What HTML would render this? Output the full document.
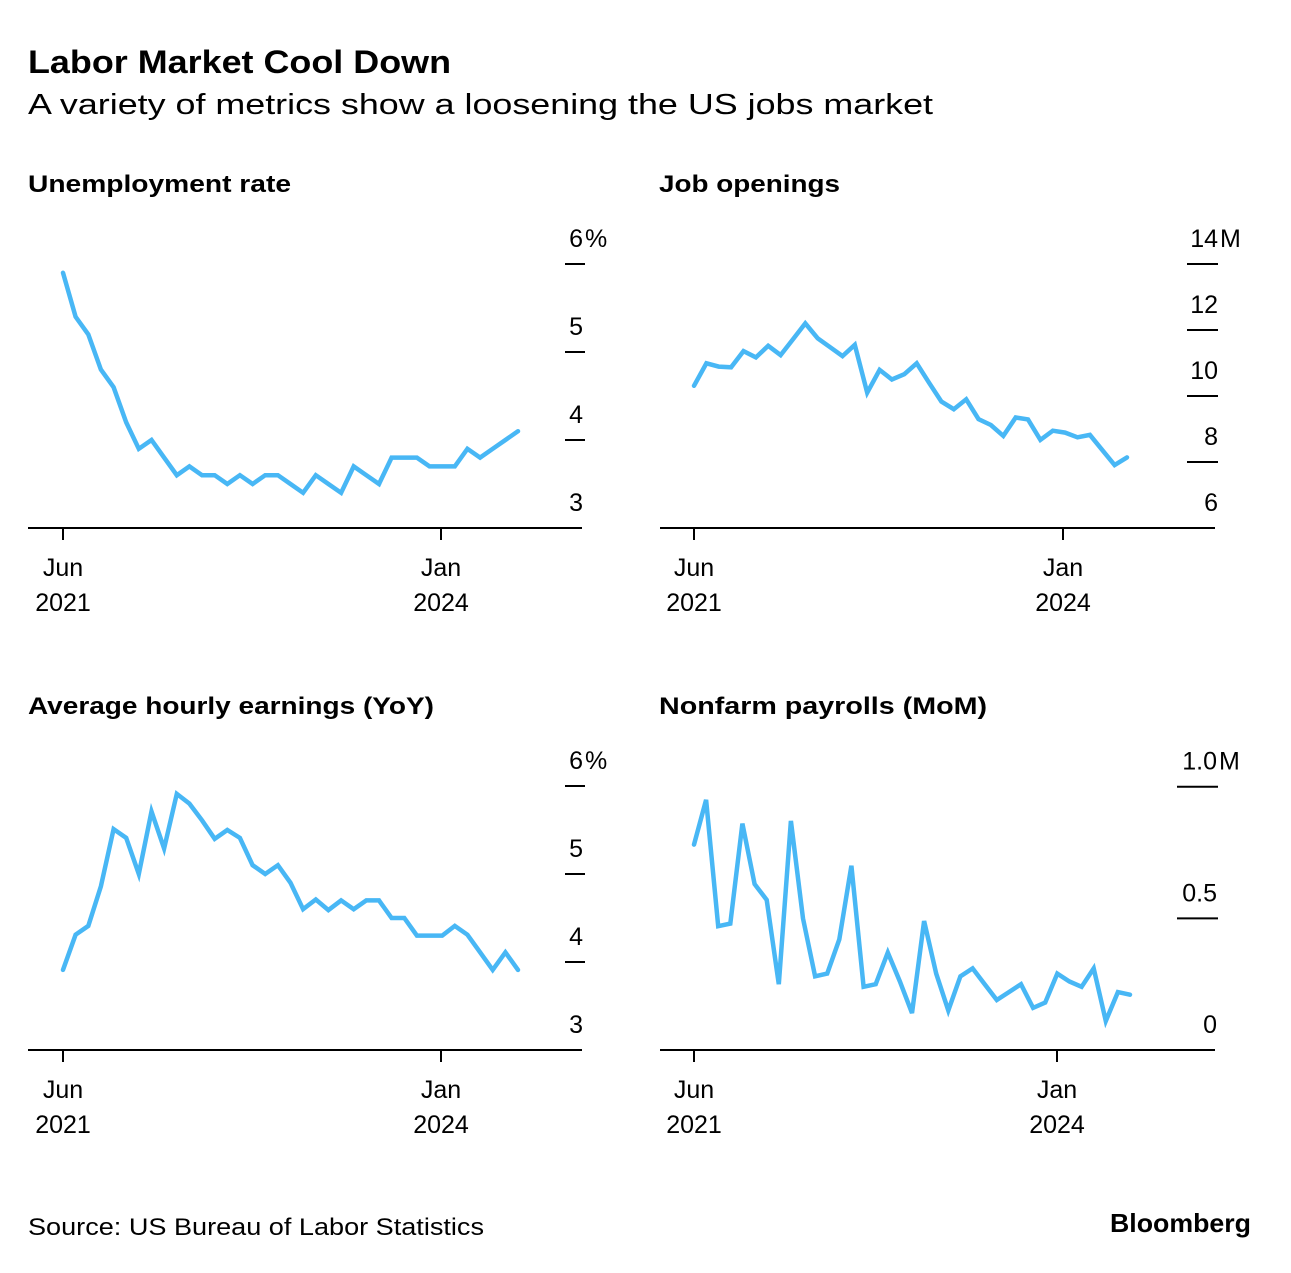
<!DOCTYPE html>
<html><head><meta charset="utf-8"><style>
body{margin:0;background:#fff;width:1291px;height:1268px;overflow:hidden;font-family:"Liberation Sans",Arial,sans-serif;}
svg text{font-family:"Liberation Sans",Arial,sans-serif;fill:#000;}
</style></head><body>
<svg id="c" width="1291" height="1268" viewBox="0 0 1291 1268">
<text x="28" y="73" font-size="32" font-weight="bold" textLength="423" lengthAdjust="spacingAndGlyphs">Labor Market Cool Down</text>
<text x="28" y="114" font-size="29" textLength="905" lengthAdjust="spacingAndGlyphs">A variety of metrics show a loosening the US jobs market</text>
<text x="28" y="192" font-size="24" font-weight="bold" textLength="263" lengthAdjust="spacingAndGlyphs">Unemployment rate</text>
<text x="659" y="192" font-size="24" font-weight="bold" textLength="181" lengthAdjust="spacingAndGlyphs">Job openings</text>
<text x="28" y="714" font-size="24" font-weight="bold" textLength="406" lengthAdjust="spacingAndGlyphs">Average hourly earnings (YoY)</text>
<text x="659" y="714" font-size="24" font-weight="bold" textLength="328" lengthAdjust="spacingAndGlyphs">Nonfarm payrolls (MoM)</text>
<text x="28" y="1235" font-size="24" textLength="456" lengthAdjust="spacingAndGlyphs">Source: US Bureau of Labor Statistics</text>
<text x="1251" y="1232" font-size="26" font-weight="bold" text-anchor="end" textLength="141" lengthAdjust="spacingAndGlyphs">Bloomberg</text>
</svg>
<script>
const unempValues=[5.9,5.4,5.2,4.8,4.6,4.2,3.9,4.0,3.8,3.6,3.7,3.6,3.6,3.5,3.6,3.5,3.6,3.6,3.5,3.4,3.6,3.5,3.4,3.7,3.6,3.5,3.8,3.8,3.8,3.7,3.7,3.7,3.9,3.8,3.9,4.0,4.1];
const unempTicks=[6,5,4,3];
const unempTickLabels=["6","5","4","3"];
const jobsValues=[10.31,10.99,10.89,10.87,11.36,11.17,11.52,11.24,11.72,12.2,11.75,11.48,11.21,11.55,10.1,10.79,10.5,10.66,10.99,10.4,9.83,9.6,9.9,9.3,9.12,8.79,9.35,9.29,8.67,8.95,8.89,8.75,8.82,8.36,7.91,8.14];
const jobsTicks=[14,12,10,8,6];
const jobsTickLabels=["14","12","10","8","6"];
const earnValues=[3.91,4.31,4.41,4.86,5.51,5.41,5.0,5.71,5.29,5.91,5.80,5.61,5.40,5.5,5.41,5.1,5.0,5.1,4.9,4.6,4.71,4.59,4.7,4.6,4.7,4.7,4.5,4.5,4.3,4.3,4.3,4.41,4.31,4.11,3.91,4.11,3.91];
const earnTicks=[6,5,4,3];
const earnTickLabels=["6","5","4","3"];
const payValues=[0.78,0.95,0.47,0.48,0.86,0.63,0.57,0.25,0.87,0.50,0.28,0.29,0.42,0.70,0.24,0.25,0.37,0.26,0.14,0.49,0.29,0.15,0.28,0.31,0.25,0.19,0.22,0.25,0.16,0.18,0.29,0.26,0.24,0.31,0.11,0.22,0.21];
const payTicks=[1.0,0.5,0];
const payTickLabels=["1.0","0.5","0"];
const xLabelsTop=["Jun","Jan"];
const xLabelsBottom=["2021","2024"];

const NS="http://www.w3.org/2000/svg";
const svg=document.getElementById('c');
function mk(tag,attrs){const e=document.createElementNS(NS,tag);for(const k in attrs)e.setAttribute(k,attrs[k]);svg.appendChild(e);return e;}

function panel(p){
  const yS=v=>p.base-(v-p.vmin)*p.ppu;
  const xS=i=>p.x0+i*(p.x1-p.x0)/(p.values.length-1);
  const base=mk('line',{x1:p.axL,x2:p.axR,y1:p.base,y2:p.base,stroke:'#000','stroke-width':2});
  
  
  p.ticks.forEach((t,k)=>{
    const y=yS(t);
    if(k<p.ticks.length-1 && t!==0){
      const tl=mk('line',{x1:p.tL,x2:p.tR,y1:y,y2:y,stroke:'#000','stroke-width':2});
      
      
    }
    const lab=mk('text',{x:p.labX,y:y-17,'font-size':25,'text-anchor':'end'});
    lab.textContent=p.tickLabels[k];
    
    
    if(k===0){
      const u=mk('text',{x:p.labX+2,y:y-17,'font-size':25});
      u.textContent=p.unit;
      
      
    }
  });
  p.xTicks.forEach((xi,k)=>{
    const x=p.x0+xi;
    const tk=mk('line',{x1:x,x2:x,y1:p.base,y2:p.base+12,stroke:'#000','stroke-width':2});
    
    
    const a=mk('text',{x:x,y:p.base+48,'font-size':25,'text-anchor':'middle'});
    a.textContent=xLabelsTop[k];
    
    
    const b=mk('text',{x:x,y:p.base+83,'font-size':25,'text-anchor':'middle'});
    b.textContent=xLabelsBottom[k];
    
    
  });
  const d=p.values.map((v,i)=>(i?'L':'M')+xS(i).toFixed(1)+' '+yS(v).toFixed(1)).join(' ');
  const path=mk('path',{d:d,fill:'none',stroke:'#48b7f5','stroke-width':4.5,'stroke-linejoin':'miter','stroke-linecap':'round'});
  
  
}
panel({name:'unemployment',values:unempValues,ticks:unempTicks,tickLabels:unempTickLabels,unit:'%',vmin:3,ppu:88,base:528,x0:63,x1:518,axL:28,axR:582,tL:565,tR:585,labX:583,xTicks:[0,378]});
panel({name:'job-openings',values:jobsValues,ticks:jobsTicks,tickLabels:jobsTickLabels,unit:'M',vmin:6,ppu:33,base:528,x0:694,x1:1127,axL:660,axR:1215,tL:1187,tR:1218,labX:1218,xTicks:[0,369]});
panel({name:'earnings',values:earnValues,ticks:earnTicks,tickLabels:earnTickLabels,unit:'%',vmin:3,ppu:88,base:1050,x0:63,x1:518,axL:28,axR:582,tL:565,tR:585,labX:583,xTicks:[0,378]});
panel({name:'payrolls',values:payValues,ticks:payTicks,tickLabels:payTickLabels,unit:'M',vmin:0,ppu:263.3,base:1050,x0:694,x1:1130,axL:660,axR:1215,tL:1177,tR:1218,labX:1217,xTicks:[0,363]});
</script>
</body></html>
